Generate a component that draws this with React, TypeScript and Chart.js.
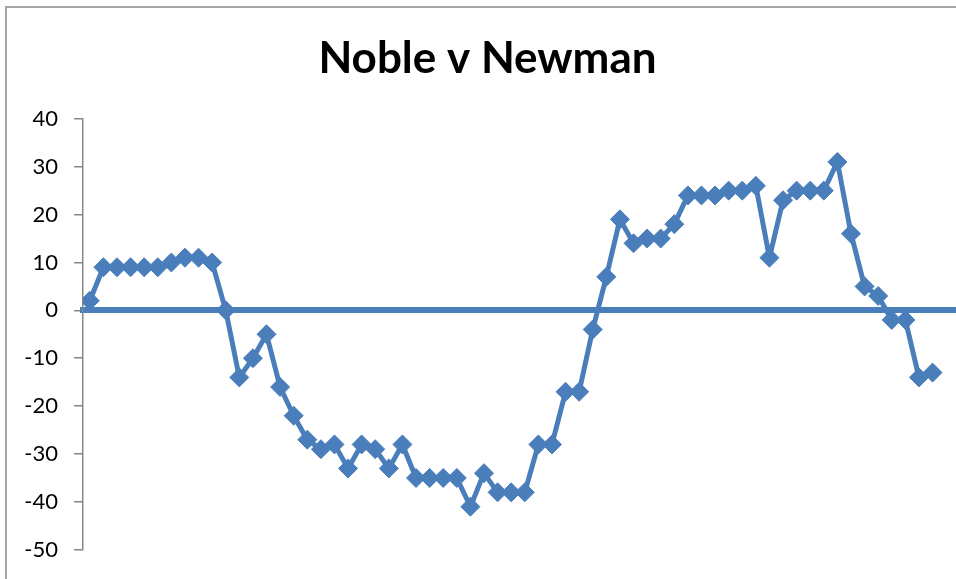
import React, { useEffect, useRef } from "react";
import { Chart, registerables } from "chart.js";

Chart.register(...registerables);

const TITLE = "Noble v Newman";
const SERIES_NAME = "Noble v Newman";
const VALUES: number[] = [
  2, 9, 9, 9, 9, 9, 10, 11, 11, 10,
  0, -14, -10, -5, -16, -22, -27, -29, -28, -33,
  -28, -29, -33, -28, -35, -35, -35, -35, -41, -34,
  -38, -38, -38, -28, -28, -17, -17, -4, 7, 19,
  14, 15, 15, 18, 24, 24, 24, 25, 25, 26,
  11, 23, 25, 25, 25, 31, 16, 5, 3, -2,
  -2, -14, -13,
];
const Y_MIN = -50;
const Y_MAX = 40;
const Y_STEP = 10;

const BLUE = "#4a7ebb";
const GREY = "#868686";

export default function App() {
  const ref = useRef<HTMLCanvasElement | null>(null);

  useEffect(() => {
    if (!ref.current) return;
    const chart = new Chart(ref.current, {
      type: "line",
      data: {
        datasets: [
          {
            label: SERIES_NAME,
            data: VALUES.map((v, i) => ({ x: i, y: v })),
            borderColor: BLUE,
            backgroundColor: BLUE,
            borderWidth: 5,
            borderJoinStyle: "round",
            pointStyle: "rectRot",
            pointRadius: 9.5,
            pointBorderWidth: 1,
            pointBackgroundColor: BLUE,
            pointBorderColor: BLUE,
            tension: 0,
          },
        ],
      },
      options: {
        animation: false,
        responsive: false,
        devicePixelRatio: 1,
        layout: { padding: { left: 0, right: 0, top: 0, bottom: 27 } },
        plugins: {
          legend: { display: false },
          tooltip: { enabled: false },
          title: {
            display: true,
            text: TITLE,
            color: "#000",
            font: { family: "Lato", size: 44, weight: "bold", lineHeight: 1.2 },
            padding: { top: 32, bottom: 34 },
          },
        },
        scales: {
          x: {
            type: "linear",
            position: { y: 0 } as any,
            min: -0.5,
            max: 64.35,
            ticks: { display: false },
            grid: { display: false, drawTicks: false },
            border: { display: true, color: BLUE, width: 6 },
          },
          y: {
            type: "linear",
            min: Y_MIN,
            max: Y_MAX,
            ticks: {
              stepSize: Y_STEP,
              padding: 16,
              color: "#000",
              font: { family: "Lato", size: 22 },
            },
            grid: {
              drawOnChartArea: false,
              drawTicks: true,
              tickLength: 9,
              color: GREY,
              lineWidth: 1.5,
            },
            border: { display: true, color: GREY, width: 1.5 },
            afterFit: (s: any) => {
              s.width = 83;
            },
          },
        },
      },
    });
    return () => chart.destroy();
  }, []);

  return (
    <div
      style={{
        position: "absolute",
        left: 0,
        top: 0,
        width: 956,
        height: 579,
        overflow: "hidden",
        background: "#fff",
      }}
    >
      <canvas
        ref={ref}
        width={975}
        height={579}
        style={{ position: "absolute", left: 0, top: 0, width: 975, height: 579 }}
      />
      <div
        style={{
          position: "absolute",
          left: 5,
          top: 6,
          right: -10,
          bottom: -10,
          borderLeft: "2px solid #a6a6a6",
          borderTop: "2px solid #a6a6a6",
          pointerEvents: "none",
        }}
      />
    </div>
  );
}
